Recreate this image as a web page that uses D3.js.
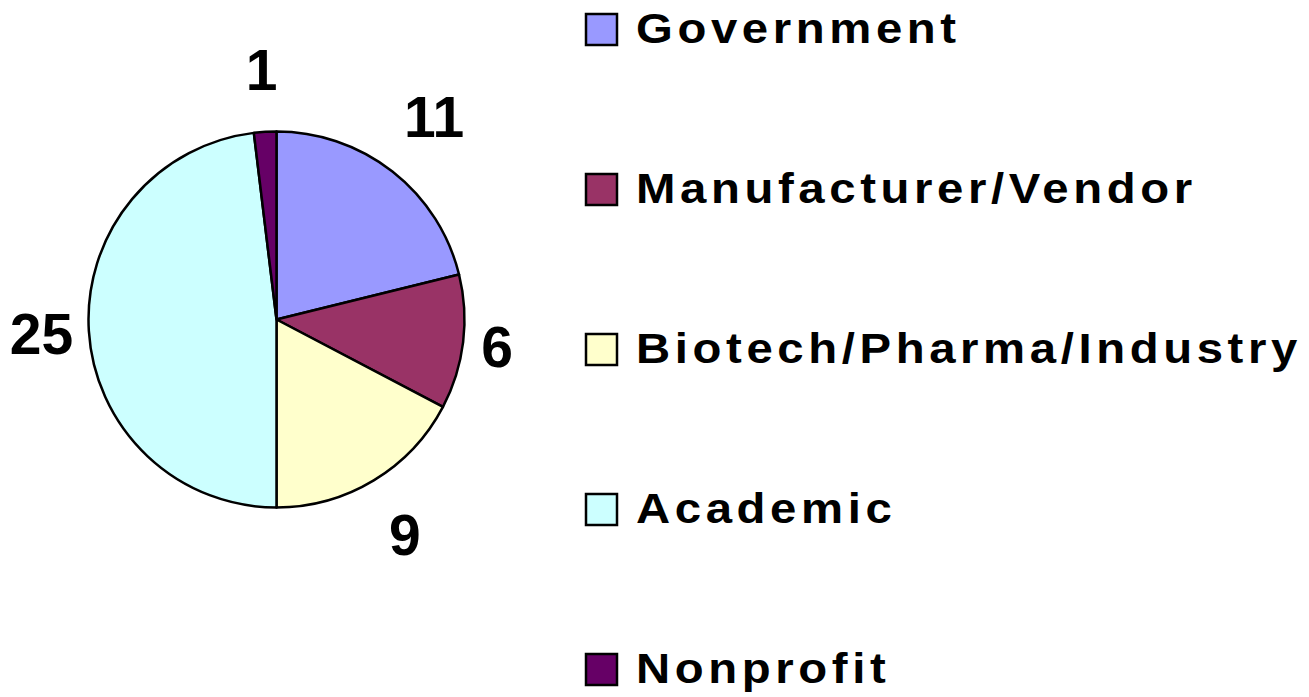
<!DOCTYPE html>
<html>
<head>
<meta charset="utf-8">
<script src="https://cdn.jsdelivr.net/npm/d3@7"></script>
<style>
  html, body { margin: 0; padding: 0; background: #fff; }
  svg { display: block; }
</style>
</head>
<body>
<div id="chart"></div>
<script>
// data
const categories = ["Government", "Manufacturer/Vendor", "Biotech/Pharma/Industry", "Academic", "Nonprofit"];
const counts = [11, 6, 9, 25, 1];
const colors = ["#9999ff", "#993366", "#ffffcc", "#ccffff", "#660066"];

const width = 1309;
const height = 697;
const cx = 276.5, cy = 319.5, radius = 188;

const svg = d3.select("#chart").append("svg")
  .attr("width", width)
  .attr("height", height);

const rows = categories.map((c, i) => ({ name: c, value: counts[i], color: colors[i] }));

// pie, clockwise from 12 o'clock
const pie = d3.pie().sort(null).value(d => d.value);
const arcs = pie(rows);
const arc = d3.arc().innerRadius(0).outerRadius(radius);

const g = svg.append("g").attr("transform", `translate(${cx},${cy})`);

g.selectAll("path.slice")
  .data(arcs)
  .join("path")
  .attr("class", "slice")
  .attr("d", arc)
  .attr("fill", d => d.data.color)
  .attr("stroke", "#000")
  .attr("stroke-width", 2.5)
  .attr("stroke-linejoin", "round");

// value labels outside the pie, box kept clear of the edge
const labelFont = 57;
const gap = 16;
g.selectAll("text.val")
  .data(arcs)
  .join("text")
  .attr("class", "val")
  .attr("font-family", "Liberation Sans, Arial, sans-serif")
  .attr("font-weight", "bold")
  .attr("font-size", labelFont)
  .attr("text-anchor", "middle")
  .text(d => d.data.value)
  .each(function (d) {
    const a = (d.startAngle + d.endAngle) / 2;
    const sx = Math.sin(a), sy = -Math.cos(a);
    const bb = this.getBBox();
    const hw = bb.width / 2, hh = labelFont * 0.8;
    const r = radius + gap + Math.abs(sx) * hw + Math.abs(sy) * hh;
    d3.select(this).attr("x", r * sx - 3 * sx).attr("y", r * sy + labelFont * 0.36);
  });

// legend
const legendY = d3.scalePoint().domain(categories).range([29, 669]);
const legend = svg.append("g");

const item = legend.selectAll("g.item")
  .data(rows)
  .join("g")
  .attr("class", "item")
  .attr("transform", d => `translate(0,${legendY(d.name)})`);

item.append("rect")
  .attr("x", 586)
  .attr("y", -15)
  .attr("width", 31)
  .attr("height", 31)
  .attr("fill", d => d.color)
  .attr("stroke", "#000")
  .attr("stroke-width", 2.5);

// legend text is a little wide in the original
const stretch = 1.1;
item.append("text")
  .attr("transform", `translate(636,14) scale(${stretch},1)`)
  .attr("font-family", "Liberation Sans, Arial, sans-serif")
  .attr("font-weight", "bold")
  .attr("font-size", 43)
  .attr("letter-spacing", "4.2px")
  .attr("fill", "#000")
  .text(d => d.name);
</script>
</body>
</html>
